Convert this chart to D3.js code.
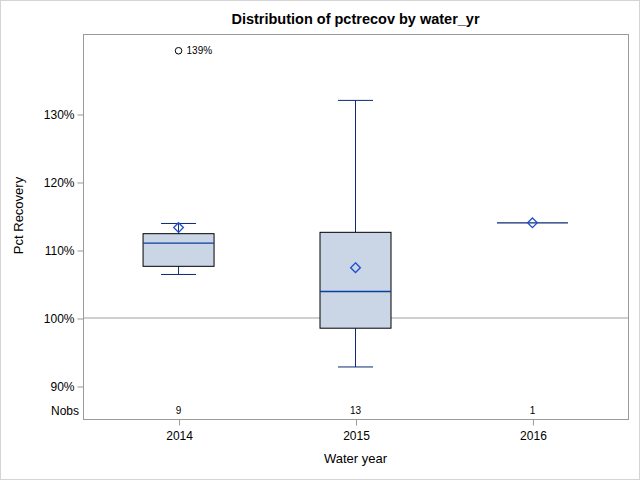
<!DOCTYPE html>
<html>
<head>
<meta charset="utf-8">
<script src="https://cdn.jsdelivr.net/npm/d3@7"></script>
<style>
  body { margin: 0; background: white; }
  text { font-family: "Liberation Sans", Arial, sans-serif; fill: black; }
</style>
</head>
<body>
<div id="vis"></div>
<script>
// data
let years = ['2014', '2015', '2016'];
let whiskerLow = [106.4, 92.8, 114.0];
let q1 = [107.6, 98.5, 114.0];
let median = [111.0, 103.9, 114.0];
let q3 = [112.4, 112.6, 114.0];
let whiskerHigh = [113.9, 132.0, 114.0];
let means = [113.3, 107.4, 114.0];
let nobs = [9, 13, 1];
let outliers = [{ year: '2014', value: 139.3, label: '139%' }];
let yTicks = [90, 100, 110, 120, 130];

let W = 640, H = 480;
let plotLeft = 83, plotRight = 628, plotTop = 34, plotBottom = 419;

let svg = d3.select('#vis')
  .append('svg')
  .attr('width', W)
  .attr('height', H);

// outer border
svg.append('rect')
  .attr('x', 0.5).attr('y', 0.5)
  .attr('width', W - 1).attr('height', H - 1)
  .attr('fill', 'white')
  .attr('stroke', '#d4d4d4');

let x = d3.scalePoint()
  .domain(years)
  .range([plotLeft, plotRight])
  .padding(0.54);

let y = d3.scaleLinear()
  .domain([90, 130])
  .range([386, 114]);

let boxW = 71, capW = 35;

// title
svg.append('text')
  .attr('x', (plotLeft + plotRight) / 2)
  .attr('y', 24)
  .attr('text-anchor', 'middle')
  .style('font-size', '14.5px')
  .style('font-weight', 'bold')
  .text('Distribution of pctrecov by water_yr');

// reference line at 100%
svg.append('line')
  .attr('x1', plotLeft).attr('x2', plotRight)
  .attr('y1', y(100)).attr('y2', y(100))
  .attr('stroke', '#a0a0a0');

// boxes
let g = svg.append('g');
years.forEach(function (yr, i) {
  let cx = x(yr);
  // whiskers
  g.append('line')
    .attr('x1', cx).attr('x2', cx)
    .attr('y1', y(q3[i])).attr('y2', y(whiskerHigh[i]))
    .attr('stroke', '#0c2a75');
  g.append('line')
    .attr('x1', cx).attr('x2', cx)
    .attr('y1', y(q1[i])).attr('y2', y(whiskerLow[i]))
    .attr('stroke', '#0c2a75');
  if (nobs[i] > 1) {
    // caps
    [whiskerLow[i], whiskerHigh[i]].forEach(function (v) {
      g.append('line')
        .attr('x1', cx - capW / 2).attr('x2', cx + capW / 2)
        .attr('y1', y(v)).attr('y2', y(v))
        .attr('stroke', '#0c2a75');
    });
    g.append('rect')
      .attr('x', cx - boxW / 2)
      .attr('y', y(q3[i]))
      .attr('width', boxW)
      .attr('height', y(q1[i]) - y(q3[i]))
      .attr('fill', '#cad5e5')
      .attr('stroke', 'black');
    g.append('line')
      .attr('x1', cx - boxW / 2).attr('x2', cx + boxW / 2)
      .attr('y1', y(median[i])).attr('y2', y(median[i]))
      .attr('stroke', '#0a3fa0')
      .attr('stroke-width', 1.3);
  } else {
    g.append('line')
      .attr('x1', cx - boxW / 2).attr('x2', cx + boxW / 2)
      .attr('y1', y(median[i])).attr('y2', y(median[i]))
      .attr('stroke', '#0c2a75')
      .attr('stroke-width', 1.3);
  }
  // mean diamond
  let my = y(means[i]);
  g.append('path')
    .attr('d', d3.symbol().type(d3.symbolDiamond2).size(60)())
    .attr('transform', 'translate(' + cx + ',' + my + ')')
    .attr('fill', 'none')
    .attr('stroke', '#1a4fd0')
    .attr('stroke-width', 1.3);
});

// outliers
outliers.forEach(function (o) {
  svg.append('circle')
    .attr('cx', x(o.year)).attr('cy', y(o.value))
    .attr('r', 3.3)
    .attr('fill', 'none')
    .attr('stroke', 'black');
  svg.append('text')
    .attr('x', x(o.year) + 8).attr('y', y(o.value) + 3.5)
    .style('font-size', '10px')
    .text(o.label);
});

// Nobs row
svg.append('text')
  .attr('x', 79).attr('y', 415)
  .attr('text-anchor', 'end')
  .style('font-size', '12px')
  .text('Nobs');
years.forEach(function (yr, i) {
  svg.append('text')
    .attr('x', x(yr)).attr('y', 414)
    .attr('text-anchor', 'middle')
    .style('font-size', '10px')
    .text(nobs[i]);
});

// frame
svg.append('rect')
  .attr('x', plotLeft + 0.5).attr('y', plotTop + 0.5)
  .attr('width', plotRight - plotLeft).attr('height', plotBottom - plotTop)
  .attr('fill', 'none')
  .attr('stroke', '#9a9a9a');

// y axis
let yAxis = svg.append('g')
  .attr('transform', 'translate(' + (plotLeft + 0.5) + ',0.5)')
  .call(d3.axisLeft(y).tickValues(yTicks).tickSize(6).tickPadding(3)
    .tickFormat(function (d) { return d + '%'; }));
yAxis.select('.domain').remove();
yAxis.selectAll('line').attr('stroke', '#9a9a9a');
yAxis.selectAll('text').style('font-size', '12px').attr('fill', 'black');

// x axis
let xAxis = svg.append('g')
  .attr('transform', 'translate(0.5,' + (plotBottom + 0.5) + ')')
  .call(d3.axisBottom(x).tickSize(6).tickPadding(6));
xAxis.select('.domain').remove();
xAxis.selectAll('line').attr('stroke', '#9a9a9a');
xAxis.selectAll('text').style('font-size', '12px').attr('fill', 'black');

// axis labels
svg.append('text')
  .attr('transform', 'translate(23,' + ((plotTop + plotBottom) / 2 - 11) + ') rotate(-90)')
  .attr('text-anchor', 'middle')
  .style('font-size', '13px')
  .text('Pct Recovery');
svg.append('text')
  .attr('x', (plotLeft + plotRight) / 2)
  .attr('y', 463)
  .attr('text-anchor', 'middle')
  .style('font-size', '13px')
  .text('Water year');
</script>
</body>
</html>
